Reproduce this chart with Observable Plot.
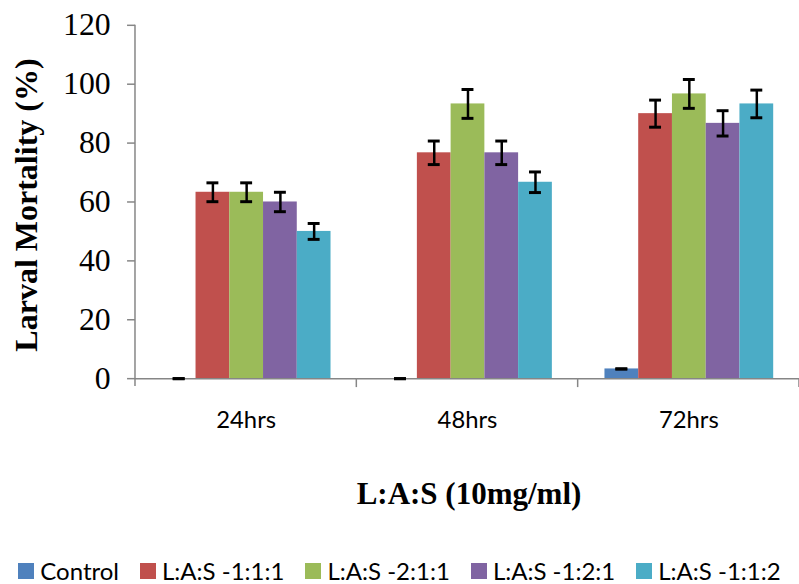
<!DOCTYPE html>
<html><head><meta charset="utf-8">
<script src="https://cdn.jsdelivr.net/npm/d3@7"></script>
<script src="https://cdn.jsdelivr.net/npm/@observablehq/plot@0.6"></script>
<style>
html,body{margin:0;padding:0;background:#fff;}
body{width:799px;height:584px;overflow:hidden;position:relative;}
#chart{position:absolute;left:0;top:0;}
#chart svg{display:block;}
#ytitle{position:absolute;left:26px;top:205px;transform:translate(-50%,-50%) rotate(-90deg);white-space:nowrap;font-family:"Liberation Serif","Times New Roman",serif;font-weight:bold;font-size:32px;line-height:1;color:#000;}
#xtitle{position:absolute;left:469px;top:478px;transform:translateX(-50%);white-space:nowrap;font-family:"Liberation Serif","Times New Roman",serif;font-weight:bold;font-size:31px;line-height:1;color:#000;}
#legend{position:absolute;left:0;width:799px;top:556px;display:flex;justify-content:center;align-items:center;gap:21px;font-family:Lato,sans-serif;font-size:24px;color:#000;white-space:nowrap;}
.item{display:flex;align-items:center;gap:6px;}
.sw{width:16px;height:16px;display:inline-block;}
</style></head>
<body>
<div id="chart"></div>
<div id="ytitle">Larval Mortality (%)</div>
<div id="xtitle">L:A:S (10mg/ml)</div>
<div id="legend"></div>
<script>
const categories = ["24hrs", "48hrs", "72hrs"];
const series = ["Control", "L:A:S -1:1:1", "L:A:S -2:1:1", "L:A:S -1:2:1", "L:A:S -1:1:2"];
const colors = ["#4F81BD", "#C0504D", "#9BBB59", "#8064A2", "#4BACC6"];
// values per series, one per category
const controlValues = [0, 0, 3.3];
const las111Values = [63.3, 76.7, 90];
const las211Values = [63.3, 93.3, 96.7];
const las121Values = [60, 76.7, 86.7];
const las112Values = [50, 66.7, 93.3];
// error (±) per series, one per category
const controlErr = [0, 0, 0];
const las111Err = [3.2, 4.0, 4.6];
const las211Err = [3.2, 4.9, 4.9];
const las121Err = [3.3, 4.0, 4.3];
const las112Err = [2.7, 3.5, 4.7];
const yTicks = [0, 20, 40, 60, 80, 100, 120];

const valueLists = [controlValues, las111Values, las211Values, las121Values, las112Values];
const errLists = [controlErr, las111Err, las211Err, las121Err, las112Err];
const rows = [];
categories.forEach((c, ci) => {
  series.forEach((s, si) => {
    rows.push({time: c, series: s, value: valueLists[si][ci], err: errLists[si][ci]});
  });
});

const axisGray = "#868686";
const plot = Plot.plot({
  width: 805,
  height: 440,
  marginLeft: 135,
  marginRight: 0,
  marginTop: 25,
  marginBottom: 59,
  fx: {domain: categories, padding: 0, label: null},
  x: {domain: series, paddingInner: 0, paddingOuter: 0.755, axis: null},
  y: {domain: [0, 120], label: null},
  color: {domain: series, range: colors},
  marks: [
    Plot.axisY({ticks: yTicks, tickSize: 8, tickPadding: 17, stroke: axisGray, strokeWidth: 1.5, fill: "#000",
      fontSize: 32, fontFamily: "Liberation Serif", label: null}),
    Plot.axisFx({anchor: "bottom", tickSize: 0, tickPadding: 33, fontSize: 24, fontFamily: "Lato", fill: "#000", label: null}),
    Plot.barY(rows, {fx: "time", x: "series", y: "value", fill: "series"}),
    Plot.ruleY([0], {stroke: axisGray, strokeWidth: 1.5}),
    Plot.ruleX(rows, {fx: "time", x: "series", y1: d => d.value - d.err, y2: d => d.value + d.err, stroke: "#000", strokeWidth: 2.5}),
    Plot.tickY(rows, {fx: "time", x: "series", y: d => d.value - d.err, stroke: "#000", strokeWidth: 3, insetLeft: 11, insetRight: 11}),
    Plot.tickY(rows, {fx: "time", x: "series", y: d => d.value + d.err, stroke: "#000", strokeWidth: 3, insetLeft: 11, insetRight: 11})
  ]
});
document.getElementById("chart").appendChild(plot);

// axis line and category boundary ticks from the plot's own scales
const fxs = plot.scale("fx");
const ys = plot.scale("y");
const svg = d3.select(plot);
const y0 = ys.apply(0), yTop = ys.apply(120);
const x0 = fxs.apply(categories[0]);
svg.append("line").attr("x1", x0).attr("x2", x0).attr("y1", yTop).attr("y2", y0 + 8)
  .attr("stroke", axisGray).attr("stroke-width", 1.5);
const edges = categories.map(c => fxs.apply(c) + fxs.bandwidth);
edges.forEach(e => {
  svg.append("line").attr("x1", e).attr("x2", e).attr("y1", y0).attr("y2", y0 + 9)
    .attr("stroke", axisGray).attr("stroke-width", 1.5);
});

const legend = document.getElementById("legend");
series.forEach((s, i) => {
  const it = document.createElement("div");
  it.className = "item";
  const sw = document.createElement("span");
  sw.className = "sw"; sw.style.background = colors[i];
  const t = document.createElement("span");
  t.textContent = s;
  it.appendChild(sw); it.appendChild(t);
  legend.appendChild(it);
});
</script>
</body></html>
